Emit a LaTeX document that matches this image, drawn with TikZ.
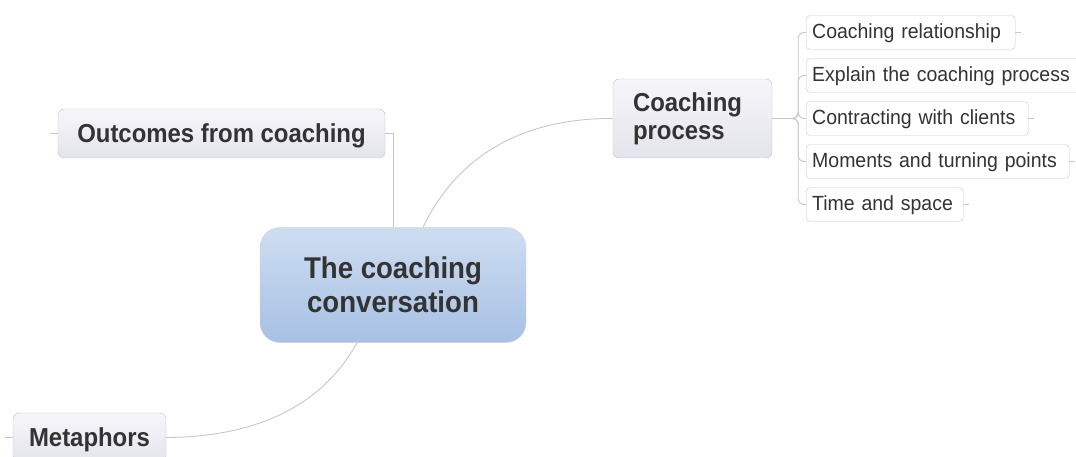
\documentclass[tikz,border=0pt]{standalone}
\usepackage{fontspec}
\setmainfont{Liberation Sans}
\newfontface\topicfont[FakeStretch=0.92]{Liberation Sans Bold}
\newfontface\leaffont[FakeStretch=0.95]{Liberation Sans}
\begin{document}
\begin{tikzpicture}[x=1pt,y=-1pt,
  txt/.style={text=black!80},
  conn/.style={draw=black!22, line width=0.9pt},
  centralbox/.style={txt, draw=black!18, rounded corners=20pt,
    top color={rgb,255:red,206;green,221;blue,241},
    bottom color={rgb,255:red,167;green,192;blue,228},
    minimum width=266pt, minimum height=115pt, align=center,
    font=\topicfont\fontsize{30}{34}\selectfont},
  topicbox/.style={txt, draw=black!25, rounded corners=6pt,
    top color={rgb,255:red,246;green,246;blue,250},
    bottom color={rgb,255:red,228;green,228;blue,236},
    font=\topicfont\fontsize{26}{28}\selectfont},
  leafbox/.style={txt, draw=black!22, rounded corners=4pt, fill=white,
    anchor=west, align=left, inner xsep=6pt, minimum height=34pt,
    text height=16pt, text depth=3pt,
    font=\leaffont\fontsize{20.5}{24}\selectfont}
]
\useasboundingbox (0,0) rectangle (1076,457);

% central topic
\node[centralbox] (c) at (393,285) {The coaching\\conversation};

% main topics
\node[topicbox, minimum width=327pt, minimum height=49pt,
      text height=20pt, text depth=2pt] (o) at (221.5,133.5)
  {Outcomes from coaching};
\node[topicbox, minimum width=153pt, minimum height=49pt,
      text height=20pt, text depth=2pt] (m) at (89.5,437.5)
  {Metaphors};
\node[topicbox, minimum width=159pt, minimum height=79pt, align=left,
      text width=119pt] (p) at (692.5,118.5)
  {Coaching\\process};

% subtopics of the coaching process
\node[leafbox, text width=197pt] (l1) at (806,32.5) {\mbox{Coaching relationship}};
\node[leafbox, text width=268pt] (l2) at (806,75.5) {\mbox{Explain the coaching process}};
\node[leafbox, text width=210pt] (l3) at (806,118.5) {\mbox{Contracting with clients}};
\node[leafbox, text width=251pt] (l4) at (806,161.5) {\mbox{Moments and turning points}};
\node[leafbox, text width=145pt] (l5) at (806,204.5) {\mbox{Time and space}};

% connectors from the central topic
\draw[conn] (o.east) -| (c.north);
\draw[conn] ([xshift=30pt]c.north) .. controls (460,150) and (530,118) .. (p.west);
\draw[conn] ([xshift=-36pt]c.south) .. controls (320,410) and (250,437) .. (m.east);

% small stubs on free sides
\draw[conn] (o.west) -- ++(-8,0);
\draw[conn] (m.west) -- ++(-8,0);
\foreach \n in {l1,l3,l4,l5} \draw[conn] (\n.east) -- ++(6,0);

% bracket to the subtopics
\foreach \n in {l1,l2,l3,l4,l5}
  \draw[conn, rounded corners=6pt] (p.east) -- ++(26,0) |- (\n.west);
\end{tikzpicture}
\end{document}
